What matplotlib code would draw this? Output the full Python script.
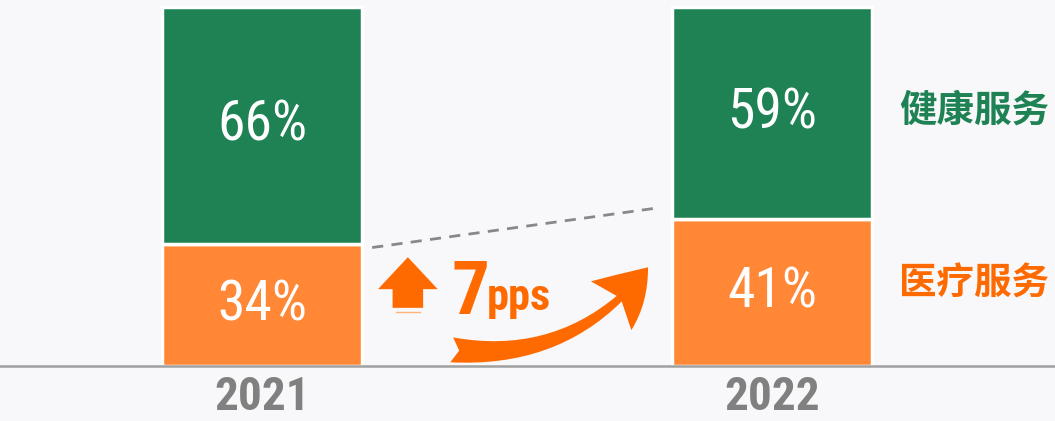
import matplotlib.pyplot as plt
from matplotlib import font_manager
from matplotlib.patches import FancyArrowPatch

# data
years = ['2021', '2022']
medical = [34, 41]   # 医疗服务
health = [66, 59]    # 健康服务
gain_label = '7pps'

GREEN = '#1e8254'
ORANGE = '#ff8735'
DARK_ORANGE = '#ff6a00'
GREY = '#808080'

# condensed face for the numbers, whatever is around
names = {(f.name, f.stretch) for f in font_manager.fontManager.ttflist}
NUM_FONT = 'DejaVu Sans'
for cand in ['Liberation Sans Narrow', 'Roboto Condensed', 'Open Sans Condensed', 'DejaVu Sans']:
    if any(n == cand for n, s in names):
        NUM_FONT = cand
        break
CJK = ['Noto Sans CJK SC', 'DejaVu Sans']

fig = plt.figure(figsize=(10.55, 4.21), dpi=100)
fig.patch.set_facecolor('#f8f8fa')
ax = fig.add_axes([0, 0, 1, 1])
ax.set_facecolor('#f8f8fa')

x = [0, 1]
w = 200 / 510
ax.bar(x, medical, width=w, color=ORANGE, edgecolor='white', linewidth=2.5, zorder=2)
ax.bar(x, health, width=w, bottom=medical, color=GREEN, edgecolor='white', linewidth=2.5, zorder=2)

ax.set_xlim(-262 / 510, (1055 - 262) / 510)
ax.set_ylim(-55 / 3.59, 100 + 7 / 3.59)
ax.axis('off')

ax.axhline(0, color='#a0a0a0', lw=1.8, zorder=3)

num = dict(family=NUM_FONT, fontstretch='condensed', ha='center', va='center')
for i in range(len(years)):
    ax.text(x[i], medical[i] / 2, f'{medical[i]}%', color='white', fontsize=40, zorder=4, **num)
    ax.text(x[i], medical[i] + health[i] / 2, f'{health[i]}%', color='white', fontsize=40,
            zorder=4, **num)
    ax.text(x[i], -8.6, years[i], color=GREY, fontsize=34, fontweight='bold', **num)

# series labels on the right
ax.text(1.396, 71.3, '健康服务', color=GREEN, fontsize=27,
        fontweight='bold', family=CJK, ha='center', va='center')
ax.text(1.396, 23.1, '医疗服务', color=DARK_ORANGE, fontsize=27,
        fontweight='bold', family=CJK, ha='center', va='center')

# dashed connector between the two orange tops
ax.plot([w / 2 + 0.02, 1 - w / 2 - 0.03], [medical[0] - 1, medical[1] + 3], ls=(0, (4, 3)),
        color='#888888', lw=2, zorder=1)

# small up arrow + label
ax.annotate('', xy=(0.286, 30.3), xytext=(0.286, 16.2),
            arrowprops=dict(arrowstyle='simple,head_length=2.3,head_width=4.3,tail_width=2.2',
                            mutation_scale=10, color=DARK_ORANGE, lw=0, shrinkA=0, shrinkB=0))
ax.plot([0.262, 0.31], [15.0, 15.0], color='#ffb27a', lw=1)
ax.text(0.408, 14.5, gain_label[0], color=DARK_ORANGE, fontsize=54, fontweight='bold',
        family=NUM_FONT, fontstretch='condensed', ha='center', va='baseline')
ax.text(0.441, 15.5, gain_label[1:], color=DARK_ORANGE, fontsize=32, fontweight='bold',
        family=NUM_FONT, fontstretch='condensed', ha='left', va='baseline')

# curved arrow
arc = FancyArrowPatch((0.372, 4.5), (0.757, 27.5), connectionstyle='arc3,rad=0.28',
                      arrowstyle='fancy,head_length=1.6,head_width=1.9,tail_width=0.75',
                      mutation_scale=24, color=DARK_ORANGE, lw=0, zorder=3,
                      shrinkA=0, shrinkB=0)
ax.add_patch(arc)

fig.savefig('out.png', dpi=100, facecolor=fig.get_facecolor())
